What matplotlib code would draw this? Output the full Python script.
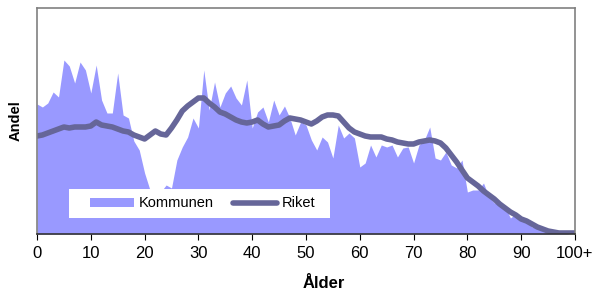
import matplotlib.pyplot as plt
from matplotlib.patches import Rectangle

plt.rcParams['font.family'] = ['Liberation Sans', 'DejaVu Sans']

# age groups 0..100+
ages = list(range(101))
tick_ages = list(range(0, 101, 10))
tick_labels = ['0', '10', '20', '30', '40', '50', '60', '70', '80', '90', '100+']

# share per age (percent)
kommunen = [
    1.30, 1.27, 1.31, 1.42, 1.37, 1.74, 1.68, 1.51, 1.72, 1.64,
    1.41, 1.69, 1.34, 1.21, 1.21, 1.61, 1.19, 1.16, 0.93, 0.84,
    0.61, 0.44, 0.39, 0.42, 0.49, 0.46, 0.74, 0.87, 0.97, 1.16,
    1.06, 1.64, 1.24, 1.52, 1.27, 1.41, 1.48, 1.36, 1.29, 1.54,
    1.06, 1.22, 1.27, 1.12, 1.34, 1.19, 1.28, 1.16, 0.99, 1.12,
    1.09, 0.94, 0.84, 0.97, 0.92, 0.76, 1.09, 0.96, 1.01, 0.96,
    0.67, 0.71, 0.89, 0.77, 0.89, 0.87, 0.89, 0.77, 0.86, 0.87,
    0.71, 0.89, 0.94, 1.07, 0.76, 0.74, 0.82, 0.69, 0.66, 0.74,
    0.42, 0.44, 0.44, 0.51, 0.37, 0.31, 0.31, 0.27, 0.16, 0.20,
    0.15, 0.12, 0.07, 0.07, 0.05, 0.03, 0.02, 0.01, 0.01, 0.00,
    0.00,
]
riket = [
    0.98, 0.99, 1.01, 1.03, 1.05, 1.07, 1.06, 1.07, 1.07, 1.07,
    1.08, 1.12, 1.09, 1.08, 1.07, 1.05, 1.03, 1.02, 0.99, 0.97,
    0.95, 0.99, 1.03, 1.00, 0.99, 1.06, 1.14, 1.23, 1.28, 1.32,
    1.36, 1.36, 1.31, 1.27, 1.22, 1.20, 1.17, 1.14, 1.12, 1.11,
    1.12, 1.14, 1.10, 1.07, 1.08, 1.09, 1.13, 1.16, 1.15, 1.14,
    1.12, 1.10, 1.13, 1.17, 1.19, 1.19, 1.18, 1.12, 1.06, 1.02,
    1.00, 0.98, 0.97, 0.97, 0.97, 0.95, 0.94, 0.92, 0.91, 0.90,
    0.90, 0.92, 0.93, 0.94, 0.93, 0.91, 0.86, 0.79, 0.72, 0.64,
    0.56, 0.52, 0.48, 0.43, 0.39, 0.35, 0.30, 0.26, 0.22, 0.19,
    0.15, 0.13, 0.10, 0.07, 0.05, 0.03, 0.02, 0.01, 0.01, 0.01,
    0.01,
]

fig = plt.figure(figsize=(5.93, 2.93), dpi=100)
ax = fig.add_axes([0.0624, 0.2014, 0.9072, 0.7713])

ax.fill_between(ages, kommunen, 0, color='#9999FF', linewidth=0, label='Kommunen')
ax.plot(ages, riket, color='#666699', linewidth=4, solid_capstyle='round', label='Riket')

ax.set_xlim(0, 100)
ax.set_ylim(0, 2.26)
ax.set_yticks([])
ax.set_xticks(tick_ages)
ax.set_xticklabels(tick_labels, fontsize=12)
ax.tick_params(axis='x', direction='out', length=4, width=0.8, pad=5)

for side in ['left', 'top', 'right']:
    ax.spines[side].set_color('#808080')
    ax.spines[side].set_linewidth(1.2)
ax.spines['bottom'].set_color('#333333')
ax.spines['bottom'].set_linewidth(1.2)

ax.set_xlabel('Ålder', fontsize=12, fontweight='bold')
ax.xaxis.set_label_coords(0.533, -0.185)
ax.xaxis.label.set_verticalalignment('top')
ax.set_ylabel('Andel', fontsize=10.5, fontweight='bold', labelpad=10)

# white legend box
ax.add_patch(Rectangle((0.0595, 0.0708), 0.4851, 0.1282, transform=ax.transAxes,
                       facecolor='white', edgecolor='none', zorder=4))
leg = ax.legend(loc='center left', bbox_to_anchor=(0.0985, 0.135),
                ncol=2, frameon=False, fontsize=10.5,
                handlelength=3.0, handleheight=0.6, handletextpad=0.35,
                borderaxespad=0, borderpad=0, columnspacing=1.3)
leg.set_zorder(5)

fig.savefig('out.png', dpi=100)
